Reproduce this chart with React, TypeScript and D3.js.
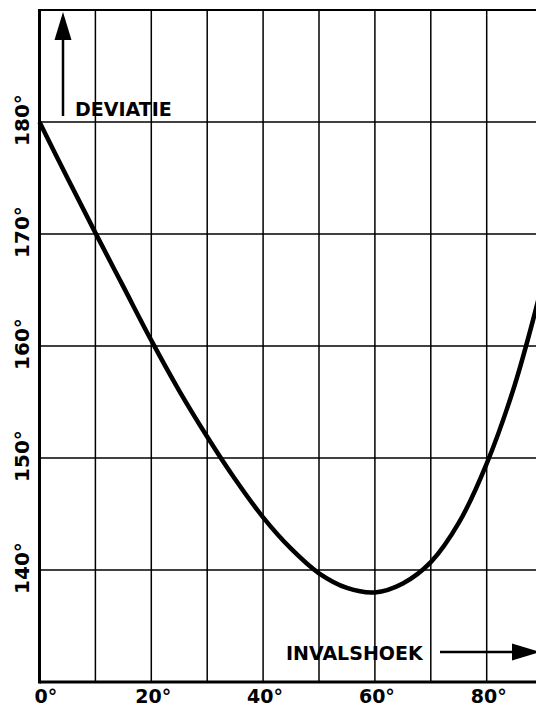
import { useEffect, useRef } from 'react';
import * as d3 from 'd3';

// invalshoek (angle of incidence, degrees)
const angles = [0, 5, 10, 15, 20, 25, 30, 35, 40, 45, 50, 55, 60, 65, 70, 75, 80, 85, 90];
// deviatie (deviation, degrees)
const deviation = [
  180, 175.0, 170.1, 165.3, 160.5, 156.0, 151.9, 148.1, 144.7, 141.9, 139.7, 138.4, 138.0, 138.8,
  140.7, 144.2, 149.5, 156.5, 165.6
];
const xGrid = [0, 10, 20, 30, 40, 50, 60, 70, 80, 90];
const xLabels = [0, 20, 40, 60, 80];
const yGrid = [130, 140, 150, 160, 170, 180, 190];
const yLabels = [140, 150, 160, 170, 180];

const WIDTH = 536;
const HEIGHT = 709;
const FONT = '"DejaVu Sans", sans-serif';

export default function App() {
  const ref = useRef<SVGSVGElement | null>(null);

  useEffect(() => {
    if (!ref.current) return;
    const svg = d3.select(ref.current);
    svg.selectAll('*').remove();

    const x = d3.scaleLinear().domain([0, 90]).range([39.5, 542.6]);
    const y = d3.scaleLinear().domain([130, 190]).range([682, 10]);

    const points = angles.map((a, i) => ({ a, d: deviation[i] }));

    // grid
    const grid = svg.append('g').attr('stroke', '#000').attr('stroke-width', 1.5);
    grid
      .selectAll('line.v')
      .data(xGrid)
      .enter()
      .append('line')
      .attr('class', 'v')
      .attr('x1', (d) => x(d))
      .attr('x2', (d) => x(d))
      .attr('y1', y(190))
      .attr('y2', y(130));
    grid
      .selectAll('line.h')
      .data(yGrid)
      .enter()
      .append('line')
      .attr('class', 'h')
      .attr('x1', x(0))
      .attr('x2', WIDTH)
      .attr('y1', (d) => y(d))
      .attr('y2', (d) => y(d))
      .attr('stroke-width', (d) => (d === 190 ? 2.2 : 1.5));

    // heavy axes
    svg
      .append('line')
      .attr('x1', x(0))
      .attr('x2', x(0))
      .attr('y1', y(190) - 1)
      .attr('y2', y(130) + 1.5)
      .attr('stroke', '#000')
      .attr('stroke-width', 3);
    svg
      .append('line')
      .attr('x1', x(0))
      .attr('x2', WIDTH)
      .attr('y1', y(130))
      .attr('y2', y(130))
      .attr('stroke', '#000')
      .attr('stroke-width', 3);

    // curve
    const line = d3
      .line<{ a: number; d: number }>()
      .x((p) => x(p.a))
      .y((p) => y(p.d))
      .curve(d3.curveCatmullRom);
    svg
      .append('path')
      .datum(points)
      .attr('fill', 'none')
      .attr('stroke', '#000')
      .attr('stroke-width', 4.5)
      .attr('stroke-linejoin', 'round')
      .attr('d', line);

    // x labels
    svg
      .selectAll('text.xl')
      .data(xLabels)
      .enter()
      .append('text')
      .attr('class', 'xl')
      .attr('x', (d) => (d === 0 ? x(d) - 5 : x(d) + 2))
      .attr('y', 703)
      .attr('text-anchor', (d) => (d === 0 ? 'start' : 'middle'))
      .style('font-family', FONT)
      .style('font-weight', 'bold')
      .style('font-size', '19px')
      .text((d) => `${d}°`);

    // y labels (rotated)
    svg
      .selectAll('text.yl')
      .data(yLabels)
      .enter()
      .append('text')
      .attr('class', 'yl')
      .attr('transform', (d) => `translate(29, ${y(d) - 2}) rotate(-90)`)
      .attr('text-anchor', 'middle')
      .style('font-family', FONT)
      .style('font-weight', 'bold')
      .style('font-size', '20px')
      .text((d) => `${d}°`);

    // DEVIATIE arrow
    const ax = 63;
    svg
      .append('line')
      .attr('x1', ax)
      .attr('x2', ax)
      .attr('y1', 116)
      .attr('y2', 35)
      .attr('stroke', '#000')
      .attr('stroke-width', 2.5);
    svg
      .append('path')
      .attr('d', `M${ax},12 L${ax - 8.5},40 L${ax + 8.5},40 Z`)
      .attr('fill', '#000');
    svg
      .append('text')
      .attr('x', 75)
      .attr('y', 116)
      .style('font-family', FONT)
      .style('font-weight', 'bold')
      .style('font-size', '19px')
      .text('DEVIATIE');

    // INVALSHOEK arrow
    const ay = 652;
    svg
      .append('text')
      .attr('x', 286)
      .attr('y', 660)
      .style('font-family', FONT)
      .style('font-weight', 'bold')
      .style('font-size', '19px')
      .text('INVALSHOEK');
    svg
      .append('line')
      .attr('x1', 440)
      .attr('x2', 520)
      .attr('y1', ay)
      .attr('y2', ay)
      .attr('stroke', '#000')
      .attr('stroke-width', 2.5);
    svg
      .append('path')
      .attr('d', `M540,${ay} L512,${ay - 8.5} L512,${ay + 8.5} Z`)
      .attr('fill', '#000');
  }, []);

  return (
    <div style={{ position: 'absolute', left: 0, top: 0 }}>
      <svg ref={ref} width={WIDTH} height={HEIGHT} style={{ display: 'block', background: '#fff' }} />
    </div>
  );
}
